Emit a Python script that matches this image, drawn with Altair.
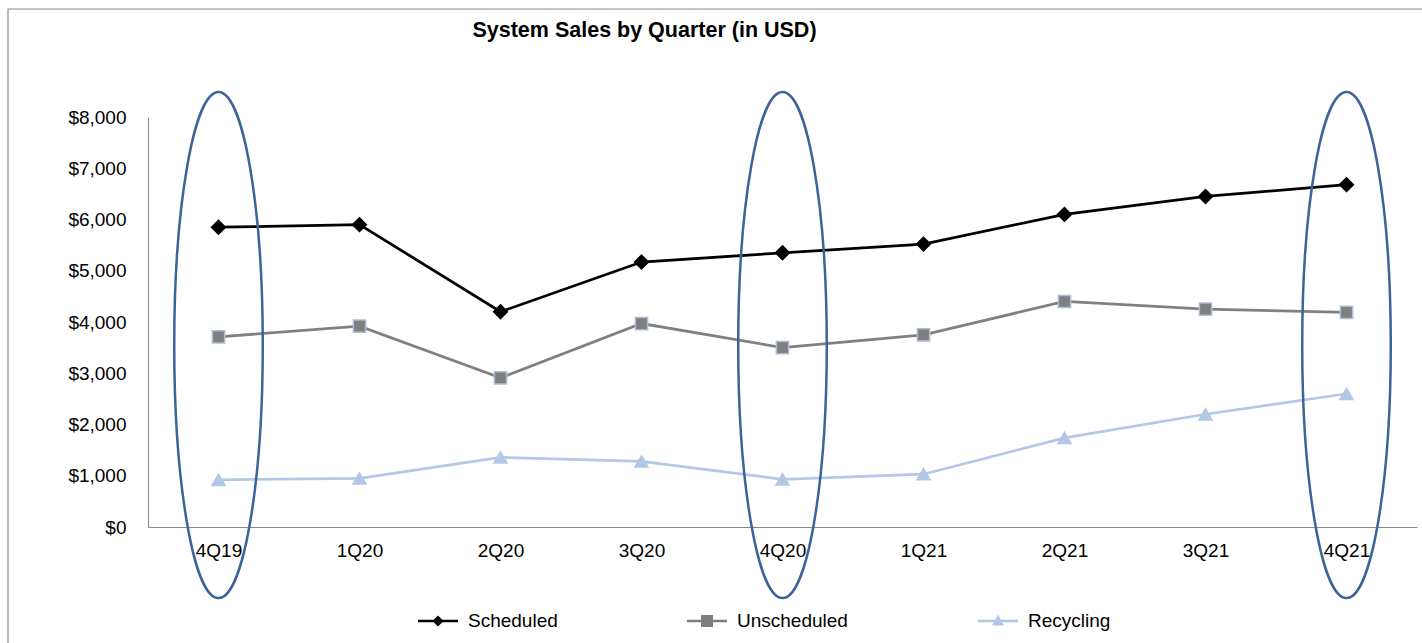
import altair as alt
import pandas as pd

quarters = ["4Q19", "1Q20", "2Q20", "3Q20", "4Q20", "1Q21", "2Q21", "3Q21", "4Q21"]
scheduled = [5850, 5900, 4200, 5170, 5350, 5520, 6100, 6450, 6680]
unscheduled = [3710, 3920, 2910, 3970, 3500, 3750, 4400, 4250, 4190]
recycling = [920, 950, 1360, 1280, 930, 1030, 1740, 2200, 2600]

series_names = ["Scheduled", "Unscheduled", "Recycling"]
series_colors = ["#000000", "#808080", "#B4C7E7"]

highlight_quarters = ["4Q19", "4Q20", "4Q21"]
ellipse_center = 3550

FONT = "Liberation Sans"

rows = []
for name, vals in zip(series_names, [scheduled, unscheduled, recycling]):
    for q, v in zip(quarters, vals):
        rows.append({"quarter": q, "series": name, "value": v})
df = pd.DataFrame(rows)
hl = pd.DataFrame({"quarter": highlight_quarters, "value": [ellipse_center] * len(highlight_quarters)})

W, H = 1269, 410

x_enc = alt.X("quarter:N", sort=quarters, scale=alt.Scale(type="point", padding=0.5),
              axis=alt.Axis(title=None, labelAngle=0, ticks=False, labelPadding=14,
                            domainColor="#878787", labelFontSize=19, labelFont=FONT,
                            labelColor="#000000", grid=False))
y_enc = alt.Y("value:Q", scale=alt.Scale(domain=[0, 8000], nice=False),
              axis=alt.Axis(title=None, values=list(range(0, 8001, 1000)), format="$,.0f",
                            ticks=False, labelPadding=22, domainColor="#878787",
                            labelFontSize=19, labelFont=FONT, labelColor="#000000", grid=False))

lines = alt.Chart(df).mark_line(strokeWidth=2.75).encode(
    x=x_enc, y=y_enc,
    color=alt.Color("series:N", scale=alt.Scale(domain=series_names, range=series_colors), legend=None),
)

LINE = "M-1,-0.06L1,-0.06L1,0.06L-1,0.06Z "
leg_paths = {
    "Scheduled": LINE + "M0,-0.28L0.28,0L0,0.28L-0.28,0Z",
    "Unscheduled": LINE + "M-0.3,-0.3L0.3,-0.3L0.3,0.3L-0.3,0.3Z",
    "Recycling": LINE + "M0,-0.32L0.3,0.22L-0.3,0.22Z",
}
marker_shapes = {"Scheduled": "diamond", "Unscheduled": "square", "Recycling": "triangle-up"}
marker_sizes = {"Scheduled": 190, "Unscheduled": 150, "Recycling": 170}
marker_strokes = {"Scheduled": "#000000", "Unscheduled": "#AEBDD6", "Recycling": "#B4C7E7"}
marker_fills = {"Scheduled": "#000000", "Unscheduled": "#7F7F7F", "Recycling": "#B4C7E7"}
legend_x = {"Scheduled": 270, "Unscheduled": 539, "Recycling": 830}

point_layers = []
for name in series_names:
    p = alt.Chart(df).transform_filter(alt.datum.series == name).mark_point(
        filled=True, shape=marker_shapes[name], size=marker_sizes[name],
        stroke=marker_strokes[name], strokeWidth=1.5, opacity=1,
    ).encode(
        x=x_enc, y=y_enc,
        color=alt.Color("series:N", scale=alt.Scale(domain=[name], range=[marker_fills[name]]),
                        legend=alt.Legend(orient="none", legendX=legend_x[name], legendY=484,
                                          title=None, symbolType=leg_paths[name], symbolSize=1600,
                                          symbolStrokeWidth=0, labelFontSize=19, labelFont=FONT,
                                          labelColor="#000000", labelOffset=10, padding=0)),
    )
    point_layers.append(p)

ELLIPSE = "M-0.175,0A0.175,1,0,1,0,0.175,0A0.175,1,0,1,0,-0.175,0Z"
ellipses = alt.Chart(hl).mark_point(
    shape=ELLIPSE, size=256036, filled=False, stroke="#3C6497", strokeWidth=2.5, opacity=1,
).encode(x=alt.X("quarter:N", sort=quarters), y=alt.Y("value:Q"))

border = alt.Chart(pd.DataFrame({"k": [0]})).mark_rect(
    fillOpacity=0, stroke="#8C8C8C", strokeWidth=1.2,
).encode(x=alt.value(-140), x2=alt.value(1400), y=alt.value(-108), y2=alt.value(700))

chart = alt.layer(border, lines, *point_layers, ellipses).resolve_scale(
    color="independent"
).properties(
    width=W, height=H,
    background="#FFFFFF",
    title=alt.TitleParams("System  Sales by Quarter (in USD)", fontSize=21.5, font=FONT,
                          fontWeight="bold", color="#000000", anchor="middle", frame="group",
                          dx=-138, offset=0, dy=50, baseline="alphabetic"),
    autosize=alt.AutoSizeParams(type="none"),
    padding={"left": 148, "top": 117, "right": 5, "bottom": 116},
).configure_view(strokeWidth=0, stroke="transparent")

chart.save("out.html", embed_options={"renderer": "svg", "actions": False})
